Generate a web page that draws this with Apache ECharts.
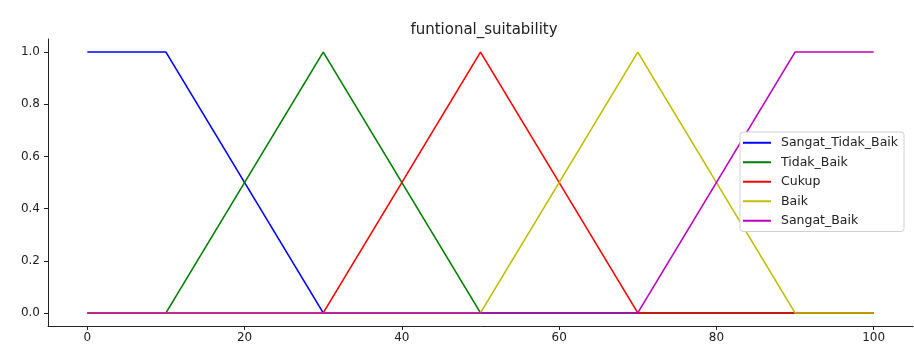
<!DOCTYPE html>
<html><head><meta charset="utf-8">
<script src="https://cdn.jsdelivr.net/npm/echarts@6/dist/echarts.min.js"></script>
<style>html,body{margin:0;padding:0;background:#fff}#c{width:914px;height:347px}</style>
</head><body><div id="c"></div>
<script>
const xPoints = [0, 10, 30, 50, 70, 90, 100];
const seriesNames = ['Sangat_Tidak_Baik', 'Tidak_Baik', 'Cukup', 'Baik', 'Sangat_Baik'];
const sangatTidakBaik = [1, 1, 0, 0, 0, 0, 0];
const tidakBaik = [0, 0, 1, 0, 0, 0, 0];
const cukup = [0, 0, 0, 1, 0, 0, 0];
const baik = [0, 0, 0, 0, 1, 0, 0];
const sangatBaik = [0, 0, 0, 0, 0, 1, 1];
const xTicks = [0, 20, 40, 60, 80, 100];
const yTicks = [0, 0.2, 0.4, 0.6, 0.8, 1.0];
const colors = ['#0000ff', '#008000', '#ff0000', '#bfbf00', '#bf00bf'];
const allValues = [sangatTidakBaik, tidakBaik, cukup, baik, sangatBaik];

const font = 'DejaVu Sans';
const chart = echarts.init(document.getElementById('c'));
chart.setOption({
  animation: false,
  backgroundColor: '#fff',
  title: {
    text: 'funtional_suitability', left: 479, top: 18, textAlign: 'center',
    textStyle: { fontFamily: font, fontSize: 15, fontWeight: 'normal', color: '#222' }
  },
  grid: { left: 48, right: 1, top: 39, bottom: 21, containLabel: false },
  legend: {
    orient: 'vertical', left: 740, top: 132,
    data: seriesNames, icon: 'rect', itemWidth: 28, itemHeight: 2, itemGap: 6,
    padding: [4, 6, 4, 3],
    backgroundColor: '#fff', borderColor: '#d0d0d0', borderWidth: 1, borderRadius: 3,
    textStyle: { fontFamily: font, fontSize: 12.5, color: '#222', padding: [0, 0, 0, 5], lineHeight: 13.5 }
  },
  xAxis: {
    type: 'value', min: -5, max: 105,
    splitLine: { show: false },
    axisLine: { onZero: false, lineStyle: { color: '#222', width: 1 } },
    axisTick: { show: true, length: 4, customValues: xTicks, lineStyle: { color: '#222' } },
    axisLabel: { customValues: xTicks, fontFamily: font, fontSize: 12, color: '#222', margin: 6 }
  },
  yAxis: {
    type: 'value', min: -0.05, max: 1.05,
    splitLine: { show: false },
    axisLine: { show: true, onZero: false, lineStyle: { color: '#222', width: 1 } },
    axisTick: { show: true, length: 4, customValues: yTicks, lineStyle: { color: '#222' } },
    axisLabel: { customValues: yTicks, fontFamily: font, fontSize: 12, color: '#222', margin: 8,
      formatter: v => v.toFixed(1) }
  },
  series: seriesNames.map((n, i) => ({
    name: n, type: 'line', symbol: 'none', color: colors[i],
    lineStyle: { width: 1.6, color: colors[i] },
    data: xPoints.map((x, j) => [x, allValues[i][j]])
  }))
});
</script></body></html>
